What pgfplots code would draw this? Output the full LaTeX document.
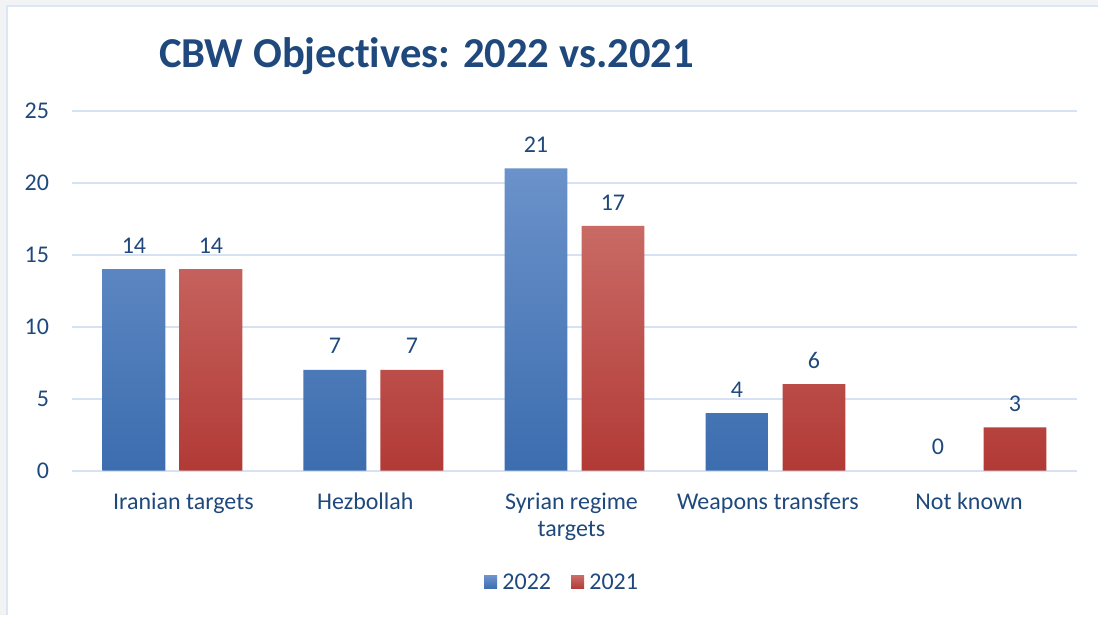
\documentclass[border=0pt]{standalone}
\usepackage{pgfplots}
\pgfplotsset{compat=1.18}
\usepackage{fontspec}
\setmainfont[Ligatures={NoCommon}]{Carlito}
\definecolor{txt}{HTML}{1F497D}
\definecolor{grid}{HTML}{D6E1F2}
\definecolor{bg}{HTML}{F2F3F5}
\definecolor{frame}{HTML}{DCE6F4}
\definecolor{btop}{HTML}{6B92CA}
\definecolor{bmid}{HTML}{4A80C3}
\definecolor{bbot}{HTML}{3C6DAF}
\definecolor{rtop}{HTML}{C96A65}
\definecolor{rmid}{HTML}{C2473F}
\definecolor{rbot}{HTML}{B23A36}
\begin{document}
\begin{tikzpicture}[x=0.75pt,y=0.75pt]
\fill[bg] (0,0) rectangle (1099,616);
\fill[white] (7.5,0) rectangle (1099,610);
\draw[frame,line width=1.5pt] (7.5,0) -- (7.5,610) -- (1099,610);
\node[anchor=base,text=txt,font=\fontsize{32}{38}\selectfont\bfseries] at (427,548) {CBW Objectives: 2022 vs.2021};
\begin{axis}[
  at={(72pt*0.75,145pt*0.75)}, anchor=south west,
  scale only axis, width=754.5pt, height=270pt,
  xmin=-0.5, xmax=4.5, ymin=0, ymax=25,
  ytick={0,5,10,15,20,25},
  xtick={0,1,2,3,4},
  xticklabels={\hspace*{16.4pt}Iranian targets,Hezbollah\hspace*{12.2pt},{\begin{tabular}[t]{@{}c@{}}Syrian regime\\targets\end{tabular}\hspace*{4.5pt}},Weapons transfers\hspace*{11.5pt},Not known\hspace*{11.1pt}},
  axis line style={draw=none},
  major tick length=0pt,
  ymajorgrids,
  grid style={draw=grid,line width=1.5pt},
  /pgf/number format/assume math mode=true,
  tick label style={text=txt,font=\fontsize{18}{20.25}\selectfont},
  xticklabel style={anchor=base,inner sep=0pt,yshift=-29.25pt},
  yticklabel style={anchor=east,inner sep=0pt,xshift=-17pt},
  ybar, bar width=47.25pt,
  nodes near coords,
  every node near coord/.append style={text=txt,font=\fontsize{18}{21}\selectfont,anchor=base,inner sep=0pt,yshift=12pt},
  legend style={at={(0.488,-0.311)},anchor=center,draw=none,fill=none,
    legend columns=-1, font=\fontsize{18}{21}\selectfont, text=txt,
    /tikz/every even column/.append style={column sep=13pt},
    /tikz/every odd column/.append style={column sep=2pt}},
]
\addplot[draw=none, bar shift=-28.9pt, top color=btop, middle color=bmid, bottom color=bbot,
  legend image code/.code={\fill[btop!40!bbot] (0pt,-4.9pt) rectangle (9.75pt,4.9pt);}]
  coordinates {(0,14) (1,7) (2,21) (3,4)};
\addplot[draw=none, bar shift=28.9pt, top color=rtop, middle color=rmid, bottom color=rbot,
  legend image code/.code={\fill[rtop!40!rbot] (0pt,-4.9pt) rectangle (9.75pt,4.9pt);}]
  coordinates {(0,14) (1,7) (2,17) (3,6) (4,3)};
\addplot[draw=none, fill=none, bar shift=-28.9pt, forget plot]
  coordinates {(4,0)};
\legend{2022,2021}
\end{axis}
\end{tikzpicture}
\end{document}
